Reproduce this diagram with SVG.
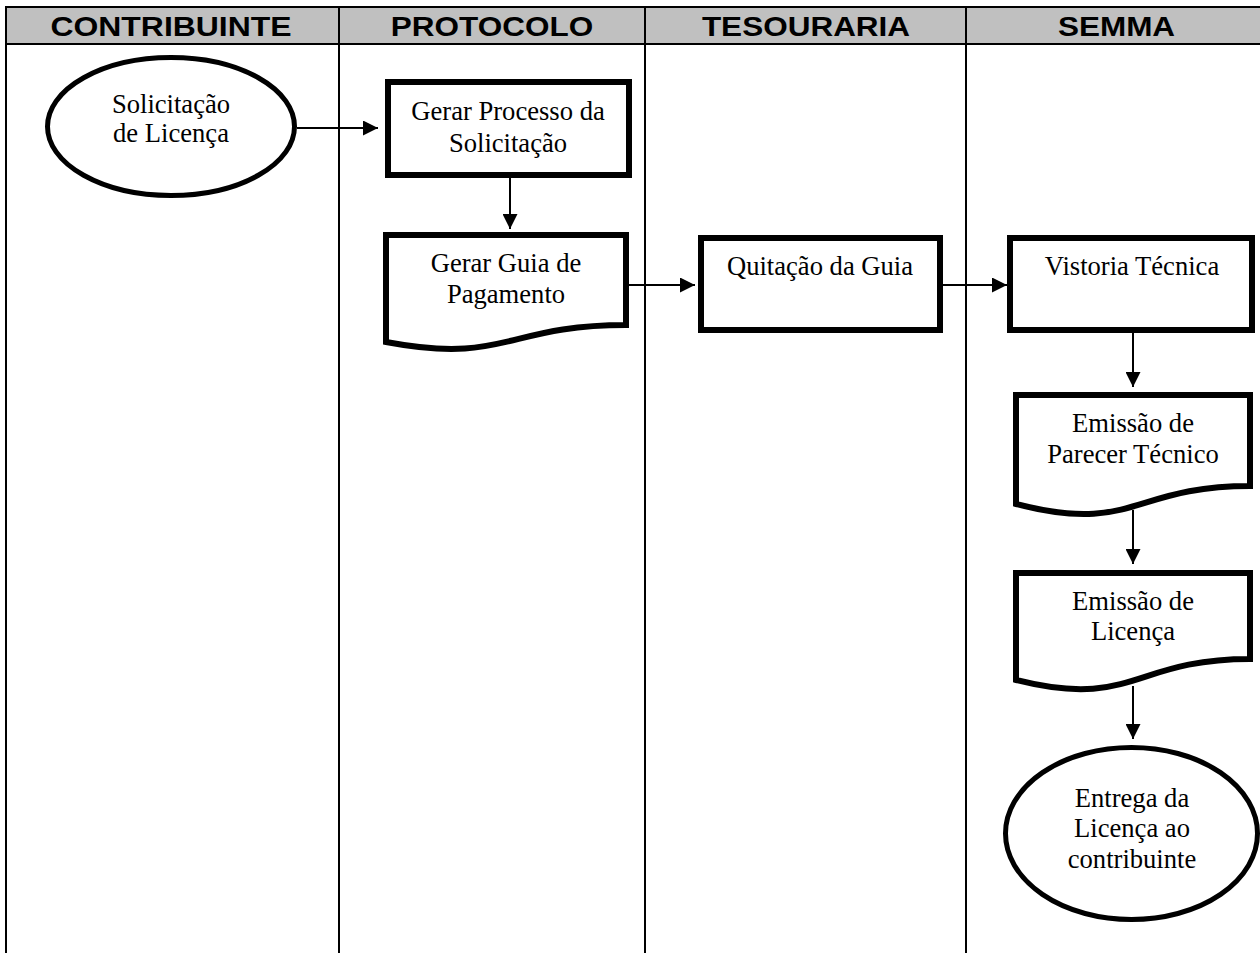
<svg xmlns="http://www.w3.org/2000/svg" width="1260" height="953" viewBox="0 0 1260 953">
  <style>
    .lane { fill: none; stroke: #000; stroke-width: 2; }
    .hdr { fill: #c0c0c0; stroke: #000; stroke-width: 2; }
    .htxt { font-family: "Liberation Sans", Arial, sans-serif; font-weight: bold; font-size: 28px; text-anchor: middle; fill: #000; }
    .shape { fill: #fff; stroke: #000; stroke-width: 6; }
    .oval { fill: #fff; stroke: #000; stroke-width: 5; }
    .lbl { font-family: "Liberation Serif", "Times New Roman", serif; font-size: 26.6px; text-anchor: middle; fill: #000; }
    .conn { fill: none; stroke: #000; stroke-width: 2; }
  </style>
  <defs>
    <marker id="arrow" markerUnits="userSpaceOnUse" markerWidth="15" markerHeight="15" refX="15" refY="7.5" orient="auto">
      <path d="M0,0 L15,7.5 L0,15 Z" fill="#000"/>
    </marker>
  </defs>

  <rect width="1260" height="953" fill="#fff"/>

  <!-- swimlane frame and header band -->
  <g id="lanes">
    <rect class="hdr" x="6" y="7" width="1264" height="37"/>
    <line class="lane" x1="6" y1="7" x2="6" y2="953"/>
    <line class="lane" x1="339" y1="7" x2="339" y2="953"/>
    <line class="lane" x1="645" y1="7" x2="645" y2="953"/>
    <line class="lane" x1="966" y1="7" x2="966" y2="953"/>
    <text class="htxt" transform="translate(171,36) scale(1.14,1)" x="0" y="0">CONTRIBUINTE</text>
    <text class="htxt" transform="translate(492,36) scale(1.125,1)" x="0" y="0">PROTOCOLO</text>
    <text class="htxt" transform="translate(806,36) scale(1.125,1)" x="0" y="0">TESOURARIA</text>
    <text class="htxt" transform="translate(1116.5,36) scale(1.125,1)" x="0" y="0">SEMMA</text>
  </g>

  <!-- connectors -->
  <g id="connectors">
    <line class="conn" x1="297" y1="128" x2="378" y2="128" marker-end="url(#arrow)"/>
    <line class="conn" x1="510" y1="178" x2="510" y2="229" marker-end="url(#arrow)"/>
    <line class="conn" x1="629" y1="285" x2="695" y2="285" marker-end="url(#arrow)"/>
    <line class="conn" x1="943" y1="285" x2="1007" y2="285" marker-end="url(#arrow)"/>
    <line class="conn" x1="1133" y1="333" x2="1133" y2="387" marker-end="url(#arrow)"/>
    <line class="conn" x1="1133" y1="510" x2="1133" y2="564" marker-end="url(#arrow)"/>
    <line class="conn" x1="1133" y1="686" x2="1133" y2="739" marker-end="url(#arrow)"/>
  </g>

  <g id="solicitacao">
    <ellipse class="oval" cx="171" cy="126.5" rx="123.5" ry="69"/>
    <text class="lbl"><tspan x="171" y="113">Solicitação</tspan><tspan x="171" y="142">de Licença</tspan></text>
  </g>

  <g id="gerar-processo">
    <rect class="shape" x="388" y="82" width="241" height="93"/>
    <text class="lbl"><tspan x="508" y="120">Gerar Processo da</tspan><tspan x="508" y="152">Solicitação</tspan></text>
  </g>

  <g id="gerar-guia">
    <path class="shape" d="M386,235 H626 V325 C506,325 506,364.6 386,342 Z"/>
    <text class="lbl"><tspan x="506" y="272">Gerar Guia de</tspan><tspan x="506" y="303">Pagamento</tspan></text>
  </g>

  <g id="quitacao">
    <rect class="shape" x="701" y="238" width="239" height="92"/>
    <text class="lbl"><tspan x="820" y="275">Quitação da Guia</tspan></text>
  </g>

  <g id="vistoria">
    <rect class="shape" x="1010" y="238" width="242" height="92"/>
    <text class="lbl"><tspan x="1132" y="275">Vistoria Técnica</tspan></text>
  </g>

  <g id="parecer">
    <path class="shape" d="M1016,395 H1250 V486 C1133,486 1133,534.5 1016,504 Z"/>
    <text class="lbl"><tspan x="1133" y="432">Emissão de</tspan><tspan x="1133" y="463">Parecer Técnico</tspan></text>
  </g>

  <g id="licenca">
    <path class="shape" d="M1016,573 H1250 V659 C1133,659 1133,709.6 1016,680 Z"/>
    <text class="lbl"><tspan x="1133" y="610">Emissão de</tspan><tspan x="1133" y="640">Licença</tspan></text>
  </g>

  <g id="entrega">
    <ellipse class="oval" cx="1131.5" cy="833.5" rx="126" ry="86"/>
    <text class="lbl"><tspan x="1132" y="807">Entrega da</tspan><tspan x="1132" y="837">Licença ao</tspan><tspan x="1132" y="868">contribuinte</tspan></text>
  </g>
</svg>
